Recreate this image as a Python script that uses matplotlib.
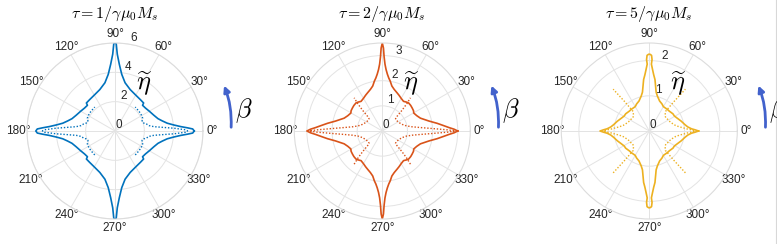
import numpy as np
import matplotlib
matplotlib.use("Agg")
import matplotlib.pyplot as plt
from matplotlib.patches import FancyArrowPatch
from matplotlib.lines import Line2D

plt.rcParams["font.family"] = ["Liberation Sans", "DejaVu Sans"]
plt.rcParams["mathtext.fontset"] = "cm"

# quarter-curves (0..90 deg), mirrored into the other quadrants
p1_solid_deg = [0, 1.5, 2.5, 3.8, 6, 8.5, 12, 16, 22, 30, 37, 43, 44.4, 51, 61, 69.9,
                78.2, 83.2, 86.3, 88.3, 89.2, 90]
p1_solid_r = [5.4, 5.3, 4.95, 4.5, 4.0, 3.6, 3.3, 3.05, 2.86, 2.7, 2.6, 2.57, 2.73, 2.75,
              2.84, 3.01, 3.36, 3.89, 4.56, 5.24, 5.95, 6.0]
p1_dot_deg = [0, 1, 2.7, 4, 6.4, 9, 12.5, 15, 19, 22, 25, 30, 35, 40, 45, 49.8]
p1_dot_r = [4.95, 4.8, 4.03, 3.4, 2.66, 2.35, 2.2, 2.05, 1.95, 2.0, 2.08, 2.1, 2.11, 2.12,
            2.12, 2.14]

p2_solid_deg = [0, 1.4, 3, 5, 8, 12, 18.6, 24, 29.7, 33, 37.7, 42, 46.8, 50, 54.4, 60, 65,
                69, 74, 78, 81, 83, 84.9, 86.5, 87.7, 88.6, 89.2, 90]
p2_solid_r = [3.0, 2.86, 2.65, 2.45, 2.2, 1.9, 1.6, 1.5, 1.44, 1.48, 1.5, 1.52, 1.53, 1.5,
              1.45, 1.5, 1.57, 1.63, 1.72, 1.83, 2.01, 2.12, 2.27, 2.45, 2.66, 2.95, 3.3, 3.5]
p2_dot_deg = [0, 1, 3, 5, 8, 12, 18, 25, 32, 38, 43, 44.8, 46.5, 48, 49.7]
p2_dot_r = [2.9, 2.6, 1.95, 1.55, 1.2, 0.98, 0.84, 0.76, 0.72, 0.7, 0.72, 0.82, 1.15, 1.45,
            1.73]

p3_solid_deg = [0, 1.5, 3, 6, 10, 17, 25, 31, 36, 45, 50, 60, 65, 71, 77, 80, 83.7, 85.5,
                86.9, 88.2, 87.8, 88.3, 89.5, 90]
p3_solid_r = [1.4, 1.3, 1.2, 1.1, 1.03, 0.95, 0.87, 0.83, 0.83, 0.8, 0.8, 0.8, 0.85, 0.9,
              1.02, 1.12, 1.47, 1.6, 1.74, 1.9, 2.03, 2.15, 2.18, 2.18]
p3_dot_deg = [0, 1.5, 3, 5, 8, 12, 18, 25, 32, 38, 44, 48, 50.4, 50, 49.2]
p3_dot_r = [1.3, 1.2, 1.08, 0.98, 0.86, 0.76, 0.69, 0.64, 0.62, 0.6, 0.62, 0.68, 0.72, 1.1,
            1.57]

titles = [r"$\tau = 1/\gamma\mu_0 M_s$", r"$\tau = 2/\gamma\mu_0 M_s$",
          r"$\tau = 5/\gamma\mu_0 M_s$"]
rticks = [[0, 2, 4, 6], [0, 1, 2, 3], [0, 1, 2]]
rmax = [6, 3.5, 2.5]
colors = ["#0072BD", "#D95319", "#EDB120"]
centers_px = [115, 382.3, 649.3]

W, H = 777, 244
R_PX = 88
CY = 131


def closed_curve(deg, r):
    deg = np.asarray(deg, float)
    r = np.asarray(r, float)
    t = np.concatenate([deg, 180 - deg[::-1], 180 + deg, 360 - deg[::-1]])
    rr = np.concatenate([r, r[::-1], r, r[::-1]])
    return np.radians(t), rr


def wing_curves(deg, r):
    deg = np.asarray(deg, float)
    r = np.asarray(r, float)
    t = np.concatenate([-deg[::-1], deg])
    rr = np.concatenate([r[::-1], r])
    return [(np.radians(t), rr), (np.radians(180 - t), rr)]


fig = plt.figure(figsize=(W / 100, H / 100), dpi=100)

solids = [(p1_solid_deg, p1_solid_r), (p2_solid_deg, p2_solid_r), (p3_solid_deg, p3_solid_r)]
dots = [(p1_dot_deg, p1_dot_r), (p2_dot_deg, p2_dot_r), (p3_dot_deg, p3_dot_r)]

for i in range(3):
    cx = centers_px[i]
    ax = fig.add_axes([(cx - R_PX) / W, (H - CY - R_PX) / H, 2 * R_PX / W, 2 * R_PX / H],
                      projection="polar")
    t, r = closed_curve(*solids[i])
    ax.plot(t, r, color=colors[i], lw=1.2)
    for tw, rw in wing_curves(*dots[i]):
        ax.plot(tw, rw, color=colors[i], lw=1.0, ls=(0, (1, 1.3)))

    ax.set_ylim(0, rmax[i])
    ax.set_rticks(rticks[i])
    ax.set_rlabel_position(80)
    ax.set_thetagrids(range(0, 360, 30))
    ax.tick_params(axis="x", labelsize=8.5, colors="#262626", pad=-4)
    ax.tick_params(axis="y", labelsize=8.5, colors="#262626")
    ax.grid(True, color="#e3e3e3", lw=0.7)
    ax.spines["polar"].set_color("#dcdcdc")
    ax.spines["polar"].set_linewidth(0.8)
    ax.set_facecolor("white")

    fig.text(cx / W, 1 - 14 / H, titles[i], ha="center", va="center", fontsize=11.5)

    # eta label
    fig.text((cx + 29) / W, 1 - 84 / H, r"$\widetilde{\eta}$", ha="center", va="center",
             fontsize=19)
    # beta arrow
    ax_x = cx + 116
    arrow = FancyArrowPatch(((ax_x) / W, 1 - 130 / H), ((ax_x - 8) / W, 1 - 83 / H),
                            transform=fig.transFigure, connectionstyle="arc3,rad=0.12",
                            arrowstyle="-|>", mutation_scale=9, color="#4262cc", lw=2.0)
    fig.add_artist(arrow)
    fig.text((ax_x + 4) / W, 1 - 111 / H, r"$\beta$", ha="left", va="center", fontsize=19)

fig.add_artist(Line2D([775.5 / W, 775.5 / W], [0, 1], transform=fig.transFigure,
                      color="#d8d8d8", lw=0.8))

fig.savefig("out.png", dpi=100)
